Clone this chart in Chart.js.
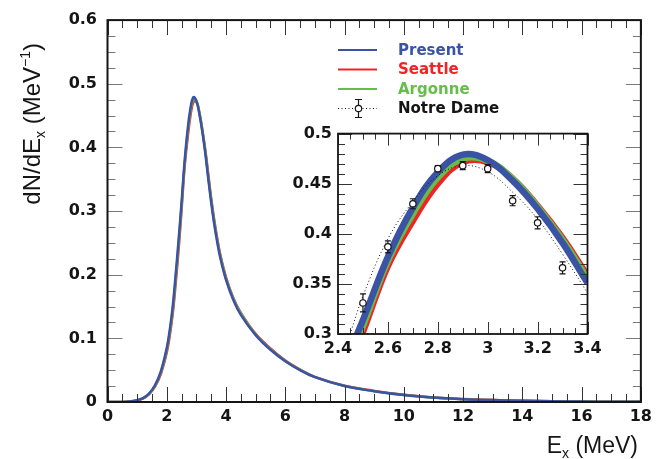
<!DOCTYPE html>
<html><head><meta charset="utf-8">
<script src="https://cdn.jsdelivr.net/npm/chart.js@4.4.1/dist/chart.umd.min.js"></script>
<style>
html,body{margin:0;padding:0;background:#fff;}
#wrap{position:relative;width:657px;height:459px;overflow:hidden;}
#main{position:absolute;left:0;top:0;}
#inset{position:absolute;left:270px;top:118px;}
</style></head><body>
<div id="wrap"><canvas id="main" width="657" height="459"></canvas><canvas id="inset" width="340" height="250"></canvas></div>
<script>
// ---------------- data ----------------
const energies = [0,0.5,0.8,1.0,1.2,1.4,1.6,1.8,2.0,2.1,2.2,2.3,2.4,2.5,2.6,2.7,2.8,2.9,3.0,3.1,3.2,3.3,3.4,3.5,3.6,3.7,3.8,4.0,4.25,4.5,5.0,5.5,6.0,6.5,7,8,9,10,11,12,13,14,15,16,17,18];
const present = [0,0,0.001,0.003,0.006,0.013,0.026,0.048,0.085,0.113,0.15,0.20,0.255,0.314,0.377,0.426,0.4615,0.479,0.4735,0.453,0.425,0.391,0.351,0.313,0.28,0.252,0.228,0.192,0.16,0.137,0.105,0.082,0.064,0.05,0.039,0.025,0.017,0.011,0.007,0.0045,0.003,0.002,0.0012,0.0007,0.0004,0.0002];
const seattle = [0,0,0.001,0.0025,0.0055,0.012,0.024,0.044,0.078,0.104,0.138,0.186,0.24,0.302,0.368,0.413,0.45,0.4716,0.4716,0.455,0.428,0.396,0.358,0.32,0.287,0.258,0.233,0.196,0.163,0.14,0.107,0.084,0.065,0.051,0.0395,0.0255,0.0175,0.0115,0.0072,0.0047,0.003,0.002,0.0012,0.0007,0.0004,0.0002];
const argonne = [0,0,0.001,0.003,0.006,0.0125,0.025,0.046,0.082,0.109,0.144,0.193,0.248,0.308,0.373,0.42,0.456,0.475,0.473,0.455,0.427,0.394,0.355,0.317,0.284,0.255,0.231,0.194,0.162,0.139,0.106,0.083,0.0645,0.0505,0.039,0.025,0.017,0.011,0.007,0.0045,0.003,0.002,0.0012,0.0007,0.0004,0.0002];
const ndEnergies = [2.5,2.6,2.7,2.8,2.9,3.0,3.1,3.2,3.3];
const ndValues = [0.331,0.387,0.430,0.465,0.468,0.465,0.433,0.411,0.366];
const ndErrors = [0.009,0.006,0.005,0.003,0.004,0.004,0.005,0.006,0.006];
const ndCurveE = [2.4,2.45,2.5,2.6,2.7,2.8,2.9,3.0,3.1,3.2,3.3,3.4];
const ndCurveV = [0.263,0.301,0.338,0.395,0.432,0.458,0.468,0.462,0.4415,0.4147,0.3796,0.341];
const seriesNames = ['Present','Seattle','Argonne','Notre Dame'];
const mainXTicks = [0,2,4,6,8,10,12,14,16,18];
const mainYTicks = [0,0.1,0.2,0.3,0.4,0.5,0.6];
const insetXTicks = [2.4,2.6,2.8,3,3.2,3.4];
const insetYTicks = [0.3,0.35,0.4,0.45,0.5];

// ---------------- styles ----------------
const BLUE = '#3a53a4', RED = '#ee2427', GREEN = '#66bd4a', INK = '#151515';
const TICKFONT = {family:'DejaVu Sans', weight:'bold', size:16};
const toXY = (xs, ys) => xs.map((x,i)=>({x, y: ys[i]}));

const frameTicks = {
  id:'frameTicks',
  afterDatasetsDraw(chart, args, o){
    const {ctx, chartArea:a, scales:{x,y}} = chart;
    ctx.save();
    ctx.strokeStyle = o.xColor; ctx.lineWidth = 1;
    ctx.beginPath();
    const nx = Math.round((x.max - x.min)/o.xMinor);
    for (let k=0;k<=nx;k++){
      const v = x.min + k*o.xMinor;
      const major = Math.abs(v/o.xMajor - Math.round(v/o.xMajor)) < 1e-6;
      const len = major ? o.xMajorLen : o.xMinorLen;
      const px = Math.round(x.getPixelForValue(v)) + 0.5;
      ctx.moveTo(px, a.bottom); ctx.lineTo(px, a.bottom - len);
      ctx.moveTo(px, a.top); ctx.lineTo(px, a.top + len);
    }
    ctx.stroke();
    ctx.strokeStyle = o.yColor;
    ctx.beginPath();
    const ny = Math.round((y.max - y.min)/o.yMinor);
    for (let k=0;k<=ny;k++){
      const v = y.min + k*o.yMinor;
      const major = Math.abs(v/o.yMajor - Math.round(v/o.yMajor)) < 1e-6;
      const len = major ? o.yMajorLen : o.yMinorLen;
      const py = Math.round(y.getPixelForValue(v)) + 0.5;
      ctx.moveTo(a.left, py); ctx.lineTo(a.left + len, py);
      ctx.moveTo(a.right, py); ctx.lineTo(a.right - len, py);
    }
    ctx.stroke();
    ctx.strokeStyle = INK; ctx.lineWidth = o.frameWidth;
    ctx.strokeRect(a.left, a.top, a.right - a.left, a.bottom - a.top);
    ctx.restore();
  }
};

function measureParts(ctx, parts, family){
  let total = 0;
  parts.forEach(p=>{ ctx.font = `normal ${p.size}px ${family}`; p.w = ctx.measureText(p.t).width; total += p.w; });
  return total;
}

const decorations = {
  id:'decorations',
  afterDraw(chart){
    const ctx = chart.ctx;
    ctx.save();
    const items = [
      {name: seriesNames[0], color: BLUE},
      {name: seriesNames[1], color: RED},
      {name: seriesNames[2], color: GREEN},
      {name: seriesNames[3], color: INK, nd: true}
    ];
    const ys = [50, 69.5, 89, 108.5];
    items.forEach((it, i)=>{
      const yy = ys[i];
      ctx.strokeStyle = it.color;
      if (it.nd){
        ctx.lineWidth = 1; ctx.setLineDash([1,2.5]);
        ctx.beginPath(); ctx.moveTo(338, yy); ctx.lineTo(377, yy); ctx.stroke();
        ctx.setLineDash([]); ctx.lineWidth = 1.2;
        ctx.beginPath(); ctx.moveTo(358.5, yy-9); ctx.lineTo(358.5, yy+9);
        ctx.moveTo(355, yy-9); ctx.lineTo(362, yy-9);
        ctx.moveTo(355, yy+9); ctx.lineTo(362, yy+9); ctx.stroke();
        ctx.beginPath(); ctx.arc(358.5, yy, 3.2, 0, Math.PI*2);
        ctx.fillStyle = '#fff'; ctx.fill(); ctx.stroke();
      } else {
        ctx.lineWidth = 2;
        ctx.beginPath(); ctx.moveTo(338, yy); ctx.lineTo(377, yy); ctx.stroke();
      }
      ctx.fillStyle = it.color;
      ctx.font = 'bold 15px "DejaVu Sans"';
      ctx.textBaseline = 'middle'; ctx.textAlign = 'left';
      ctx.fillText(it.name, 398, yy + 1);
    });
    ctx.fillStyle = INK; ctx.textBaseline = 'alphabetic'; ctx.textAlign = 'left';
    const fam = '"Liberation Sans"';
    const xt = [{t:'E', size:23},{t:'x', size:14, dy:5},{t:' (MeV)', size:23}];
    let tw = measureParts(ctx, xt, fam);
    let cx = 638 - tw;
    xt.forEach(p=>{ ctx.font = `normal ${p.size}px ${fam}`; ctx.fillText(p.t, cx, 453 + (p.dy||0)); cx += p.w; });
    const yt = [{t:'dN/dE', size:24},{t:'x', size:14, dy:5},{t:' (MeV', size:24},{t:'\u22121', size:14, dy:-10},{t:')', size:24}];
    tw = measureParts(ctx, yt, fam);
    ctx.translate(40, 43 + tw);
    ctx.rotate(-Math.PI/2);
    cx = 0;
    yt.forEach(p=>{ ctx.font = `normal ${p.size}px ${fam}`; ctx.fillText(p.t, cx, (p.dy||0)); cx += p.w; });
    ctx.restore();
  }
};

const errorBars = {
  id:'errorBars',
  beforeDatasetDraw(chart, args){
    if (args.index !== 4) return;
    const {ctx, scales:{x,y}, chartArea:a} = chart;
    ctx.save();
    ctx.beginPath(); ctx.rect(a.left, a.top, a.right-a.left, a.bottom-a.top); ctx.clip();
    ctx.strokeStyle = INK; ctx.lineWidth = 1.2;
    ctx.beginPath();
    ndEnergies.forEach((e,i)=>{
      const px = x.getPixelForValue(e);
      const y1 = y.getPixelForValue(ndValues[i] + ndErrors[i]);
      const y2 = y.getPixelForValue(ndValues[i] - ndErrors[i]);
      ctx.moveTo(px, y1); ctx.lineTo(px, y2);
      ctx.moveTo(px-3, y1); ctx.lineTo(px+3, y1);
      ctx.moveTo(px-3, y2); ctx.lineTo(px+3, y2);
    });
    ctx.stroke();
    ctx.restore();
  }
};

function scaleCfg(min, max, ticksArr, pad, fit, isX){
  return {
    type:'linear', min, max,
    grid:{display:false, drawTicks:false},
    border:{display:false},
    afterBuildTicks: s => { s.ticks = ticksArr.map(v=>({value:v})); },
    afterFit: s => { if (isX) s.height = fit; else s.width = fit; },
    ticks:{padding:pad, font:TICKFONT, color:INK, maxRotation:0, autoSkip:false, callback: v => String(v)}
  };
}

const baseLine = {tension:0.4, fill:false};

new Chart(document.getElementById('main'), {
  type:'line',
  data:{datasets:[
    {label:seriesNames[0], data:toXY(energies,present), borderColor:BLUE, borderWidth:2.5, order:0},
    {label:seriesNames[1], data:toXY(energies,seattle), borderColor:RED, borderWidth:2.5, order:2},
    {label:seriesNames[2], data:toXY(energies,argonne), borderColor:GREEN, borderWidth:2.5, order:1}
  ]},
  options:{
    responsive:false, animation:false, devicePixelRatio:1,
    layout:{padding:{left:0, right:11.5, top:18, bottom:0}},
    elements:{point:{radius:0}, line:baseLine},
    plugins:{legend:{display:false}, tooltip:{enabled:false},
      frameTicks:{xMinor:0.5, xMajor:2, yMinor:0.025, yMajor:0.1, xMajorLen:15, xMinorLen:8, yMajorLen:15, yMinorLen:8, xColor:'#333', yColor:'#7a7a7a', frameWidth:2}},
    scales:{
      x: scaleCfg(0, 18, mainXTicks, 5, 57, true),
      y: scaleCfg(0, 0.6, mainYTicks, 10.5, 107.5, false)
    }
  },
  plugins:[frameTicks, decorations]
});

new Chart(document.getElementById('inset'), {
  type:'line',
  data:{datasets:[
    {label:seriesNames[0], data:toXY(energies,present), borderColor:BLUE, borderWidth:6.5, order:1},
    {label:seriesNames[1], data:toXY(energies,seattle), borderColor:RED, borderWidth:6.5, order:3},
    {label:seriesNames[2], data:toXY(energies,argonne), borderColor:GREEN, borderWidth:6.5, order:2},
    {label:seriesNames[3], data:toXY(ndCurveE,ndCurveV), borderColor:INK, borderWidth:1, borderDash:[1,2.5], order:0},
    {type:'scatter', label:seriesNames[3], data:toXY(ndEnergies,ndValues), showLine:false, pointRadius:3.2, pointBorderWidth:1.2, pointBackgroundColor:'#fff', pointBorderColor:INK, order:-1}
  ]},
  options:{
    responsive:false, animation:false, devicePixelRatio:1,
    layout:{padding:{left:0, right:22.5, top:15, bottom:0}},
    elements:{line:baseLine},
    datasets:{line:{pointRadius:0}},
    plugins:{legend:{display:false}, tooltip:{enabled:false},
      frameTicks:{xMinor:0.05, xMajor:0.2, yMinor:0.01, yMajor:0.05, xMajorLen:12, xMinorLen:6, yMajorLen:14, yMinorLen:7, xColor:'#333', yColor:'#333', frameWidth:1.8}},
    scales:{
      x: scaleCfg(2.4, 3.4, insetXTicks, 5, 34, true),
      y: scaleCfg(0.3, 0.5, insetYTicks, 6, 68, false)
    }
  },
  plugins:[errorBars, frameTicks]
});
</script>
</body></html>
